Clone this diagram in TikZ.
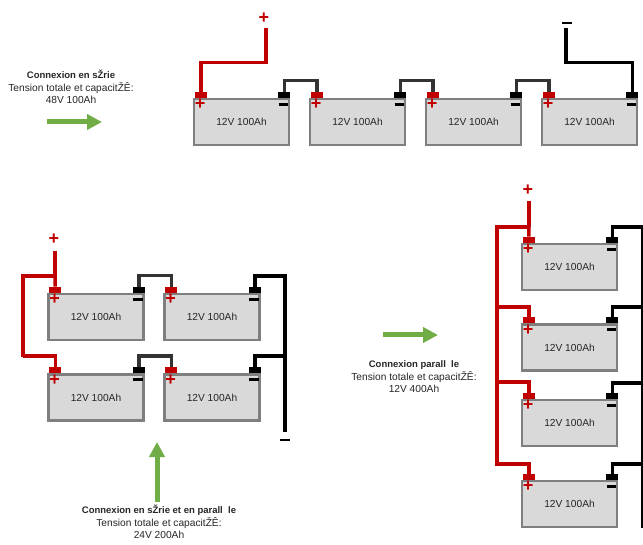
\documentclass[tikz,border=0pt]{standalone}
\usepackage{fontspec}
\setmainfont{Liberation Sans}
\usepackage{xcolor}
\usetikzlibrary{arrows.meta}
\definecolor{batred}{HTML}{C00000}
\definecolor{batgray}{HTML}{7F7F7F}
\definecolor{batfill}{HTML}{D9D9D9}
\definecolor{batgreen}{HTML}{70AD47}
\definecolor{batlink}{HTML}{333333}
\tikzset{
  batbox/.style={draw=batgray,fill=batfill,line width=2.5pt,minimum width=95pt,minimum height=46pt,inner sep=0pt,font=\fontsize{10.2}{12}\selectfont,text=black!85},
  posterm/.style={fill=batred,minimum width=12pt,minimum height=6pt,inner sep=0pt},
  negterm/.style={fill=black,minimum width=12pt,minimum height=6pt,inner sep=0pt},
  possign/.style={text=batred,font=\fontsize{18}{18}\selectfont\bfseries,inner sep=0pt},
  negsign/.style={text=black,font=\fontsize{15}{15}\selectfont\bfseries,inner sep=0pt},
  redwire/.style={draw=batred,line width=3.5pt},
  redmain/.style={draw=batred,line width=4.5pt},
  linkwire/.style={draw=batlink,line width=3.5pt},
  blackwire/.style={draw=black,line width=3.5pt},
  blackmain/.style={draw=black,line width=4.5pt},
  greenarrow/.style={draw=batgreen,line width=5pt,-{Triangle[length=15pt,width=15pt]}},
  infotext/.style={align=center,inner sep=0pt,font=\fontsize{10.2}{12.5}\selectfont,text=black!85},
  infohead/.style={font=\fontsize{9.5}{12.5}\selectfont\bfseries}
}
\newcommand{\battery}[3]{
  \node[batbox] (#1) at (#2,#3) {12V 100Ah};
  \node[posterm] (#1p) at ([shift={(8,-3)}]#1.north west) {};
  \node[negterm] (#1n) at ([shift={(-6,-3)}]#1.north east) {};
  \node[possign] (#1ps) at ([shift={(7.5,6.5)}]#1.north west) {+};
  \node[negsign] (#1ns) at ([shift={(-7,6.5)}]#1.north east) {\rule{9.5pt}{2.6pt}};
}
\newcommand{\headline}[1]{{\fontsize{9.5}{12.5}\selectfont\bfseries #1}}

\begin{document}
\begin{tikzpicture}[x=1pt,y=-1pt]
  \useasboundingbox (0,0) rectangle (643,545);

  \node[infotext] (atext) at (71,87) {\headline{Connexion en sŽrie}\\Tension totale et capacitŽÊ:\\48V 100Ah};
  \coordinate (aarrowa) at (47,122);
  \coordinate (aarrowb) at (102,122);
  \draw[greenarrow] (aarrowa) -- (aarrowb);

  \battery{a1}{241.5}{122}
  \battery{a2}{357.5}{122}
  \battery{a3}{473.5}{122}
  \battery{a4}{589.5}{122}
  \node[possign] (aplus) at (264,18) {+};
  \node[negsign] (aminus) at (567,23) {\rule{9.5pt}{2.6pt}};
  \coordinate (aposend) at (266,28);
  \coordinate (anegend) at (566,28);
  \draw[redwire] (a1p.north) -- ++(0,-29) -| (aposend);
  \draw[linkwire] (a1n.north) -- ++(0,-11) -| (a2p.north);
  \draw[linkwire] (a2n.north) -- ++(0,-11) -| (a3p.north);
  \draw[linkwire] (a3n.north) -- ++(0,-11) -| (a4p.north);
  \draw[blackwire] (a4n.north) -- ++(0,-29) -| (anegend);

  \battery{b1}{96}{317}
  \battery{b2}{212}{317}
  \battery{b3}{96}{397.5}
  \battery{b4}{212}{397.5}
  \node[possign] (bplus) at (54,239) {+};
  \node[negsign] (bminus) at (285,440) {\rule{9.5pt}{2.6pt}};
  \coordinate (bposend) at (55,251);
  \coordinate (bposjoin) at (55,276);
  \coordinate (bposleft) at (23,276);
  \coordinate (bposlow) at (23,356);
  \coordinate (bnegtop) at (285,276);
  \coordinate (bnegmid) at (285,356);
  \coordinate (bnegend) at (285,432);
  \draw[redwire] (b1p.north) -- (bposjoin);
  \draw[redwire] (bposleft) -- (bposjoin);
  \draw[redwire] (b3p.north) |- (bposlow);
  \draw[redmain] (bposend) -- (bposjoin);
  \draw[redmain] ([yshift=1.5pt]bposleft) -- ([yshift=-1.5pt]bposlow);
  \draw[linkwire] (b1n.north) -- ++(0,-11) -| (b2p.north);
  \draw[linkwire] (b3n.north) -- ++(0,-11) -| (b4p.north);
  \draw[blackwire] (b2n.north) |- (bnegtop);
  \draw[blackwire] (b4n.north) |- (bnegmid);
  \draw[blackmain] ([yshift=1.5pt]bnegtop) -- (bnegend);
  \coordinate (barrowa) at (157,502);
  \coordinate (barrowb) at (157,442);
  \draw[greenarrow] (barrowa) -- (barrowb);
  \node[infotext] (btext) at (159,522) {\headline{Connexion en sŽrie et en parall\ \ le}\\Tension totale et capacitŽÊ:\\24V 200Ah};

  \battery{c1}{569.5}{267}
  \battery{c2}{569.5}{347.5}
  \battery{c3}{569.5}{423}
  \battery{c4}{569.5}{504}
  \node[possign] (cplus) at (528,190) {+};
  \coordinate (cposend) at (529,201);
  \coordinate (cposjoin) at (529,227);
  \coordinate (cposleft) at (497,227);
  \coordinate (cposa) at (497,307);
  \coordinate (cposb) at (497,382);
  \coordinate (cposc) at (497,464);
  \coordinate (cnega) at (643,227);
  \coordinate (cnegb) at (643,307);
  \coordinate (cnegc) at (643,383);
  \coordinate (cnegd) at (643,464);
  \coordinate (cnegend) at (643,528);
  \draw[redwire] (c1p.north) -- (cposjoin);
  \draw[redwire] (cposleft) -- (cposjoin);
  \draw[redwire] (c2p.north) |- (cposa);
  \draw[redwire] (c3p.north) |- (cposb);
  \draw[redwire] (c4p.north) |- (cposc);
  \draw[redmain] (cposend) -- (cposjoin);
  \draw[redmain] ([yshift=1.5pt]cposleft) -- ([yshift=-1.5pt]cposc);
  \draw[blackwire] (c1n.north) |- (cnega);
  \draw[blackwire] (c2n.north) |- (cnegb);
  \draw[blackwire] (c3n.north) |- (cnegc);
  \draw[blackwire] (c4n.north) |- (cnegd);
  \draw[blackmain] (cnega) -- (cnegend);
  \coordinate (carrowa) at (383,335);
  \coordinate (carrowb) at (438,335);
  \draw[greenarrow] (carrowa) -- (carrowb);
  \node[infotext] (ctext) at (414,377) {\headline{Connexion parall\ \ le}\\Tension totale et capacitŽÊ:\\12V 400Ah};
\end{tikzpicture}
\end{document}
